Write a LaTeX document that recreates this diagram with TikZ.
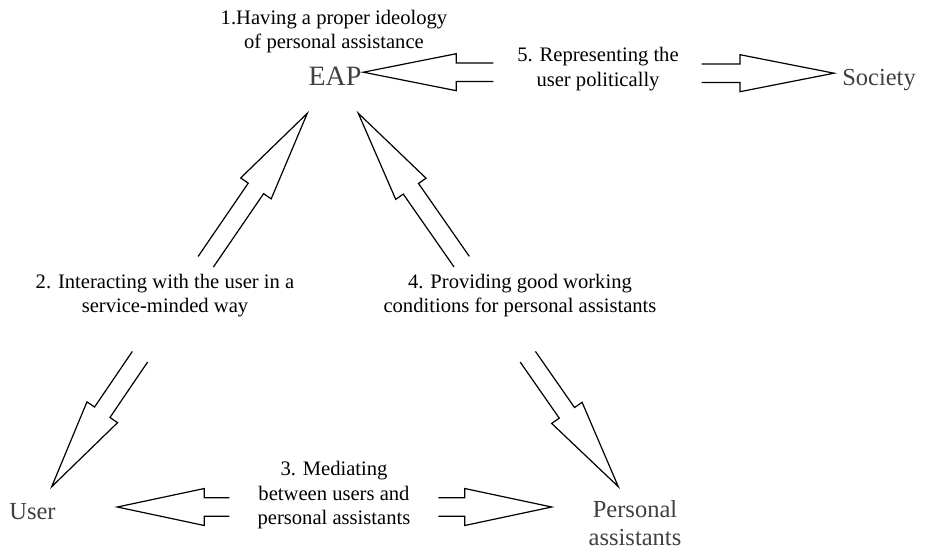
\documentclass[tikz,border=0pt]{standalone}
\usepackage{fontspec}
\setmainfont{Liberation Serif}
\usetikzlibrary{calc}

\definecolor{labelgray}{HTML}{404040}

% Multi-line nodes are placed by the baseline of their last line
\tikzset{
  arrowline/.style={draw=black, line width=1.2pt, line join=miter},
  caption/.style={align=center, font=\fontsize{20.6}{24.2}\selectfont, inner sep=0pt, anchor=base},
  party/.style={text=labelgray, align=center, font=\fontsize{24.5}{27.5}\selectfont, inner sep=0pt, anchor=base},
}

% Open-tailed hollow arrow from tail coordinate #1 to tip coordinate #2,
% with head length #3 (shaft half-width 9.3pt, head half-width 18.5pt)
\newcommand\hollowarrow[3]{%
  \draw[arrowline]
    ($(#1)!9.3pt!90:(#2)$)
    -- ($(#2)!#3!(#1)!9.3pt!90:(#2)$)
    -- ($(#2)!#3!(#1)!18.5pt!90:(#2)$)
    -- (#2)
    -- ($(#2)!#3!(#1)!18.5pt!-90:(#2)$)
    -- ($(#2)!#3!(#1)!9.3pt!-90:(#2)$)
    -- ($(#1)!9.3pt!-90:(#2)$);%
}

\begin{document}
\begin{tikzpicture}[x=1pt, y=-1pt]
  \useasboundingbox (0,0) rectangle (928,554);

  % parties
  \node[party, font=\fontsize{28}{30}\selectfont] (eap) at (335,85) {EAP};
  \node[party] (society) at (879,85.5) {Society};
  \node[party] (user) at (32.5,519) {User};
  \node[party] (pa) at (635,545) {Personal\\assistants};

  % tasks
  \node[caption] (t1) at (334,48.3) {1.Having a proper ideology\\of personal assistance};
  \node[caption] (t2) at (165,312.3) {2. Interacting with the user in a\\service-minded way};
  \node[caption] (t3) at (334,524.3) {3. Mediating\\between users and\\personal assistants};
  \node[caption] (t4) at (520,312.3) {4. Providing good working\\conditions for personal assistants};
  \node[caption] (t5) at (598,86) {5. Representing the\\user politically};

  % arrow tails and tips
  \coordinate (a5l-tail) at (493.3,72.2);  \coordinate (a5l-tip) at (363.3,72.2);
  \coordinate (a5r-tail) at (701.7,73.2);  \coordinate (a5r-tip) at (834,73.2);
  \coordinate (a3l-tail) at (229.3,507);   \coordinate (a3l-tip) at (117.3,507);
  \coordinate (a3r-tail) at (438.3,507);   \coordinate (a3r-tip) at (551.7,507);
  \coordinate (a2u-tail) at (205.8,261.7); \coordinate (a2u-tip) at (307.3,113.3);
  \coordinate (a4u-tail) at (461.7,261.7); \coordinate (a4u-tip) at (358.3,113.3);
  \coordinate (a2d-tail) at (140,356.7);   \coordinate (a2d-tip) at (51.7,486.7);
  \coordinate (a4d-tail) at (527.8,356.7); \coordinate (a4d-tip) at (618.3,486.7);

  \hollowarrow{a5l-tail}{a5l-tip}{93pt}
  \hollowarrow{a5r-tail}{a5r-tip}{94pt}
  \hollowarrow{a3l-tail}{a3l-tip}{87pt}
  \hollowarrow{a3r-tail}{a3r-tip}{87pt}
  \hollowarrow{a2u-tail}{a2u-tip}{91pt}
  \hollowarrow{a4u-tail}{a4u-tip}{92pt}
  \hollowarrow{a2d-tail}{a2d-tip}{90pt}
  \hollowarrow{a4d-tail}{a4d-tip}{90pt}
\end{tikzpicture}
\end{document}
